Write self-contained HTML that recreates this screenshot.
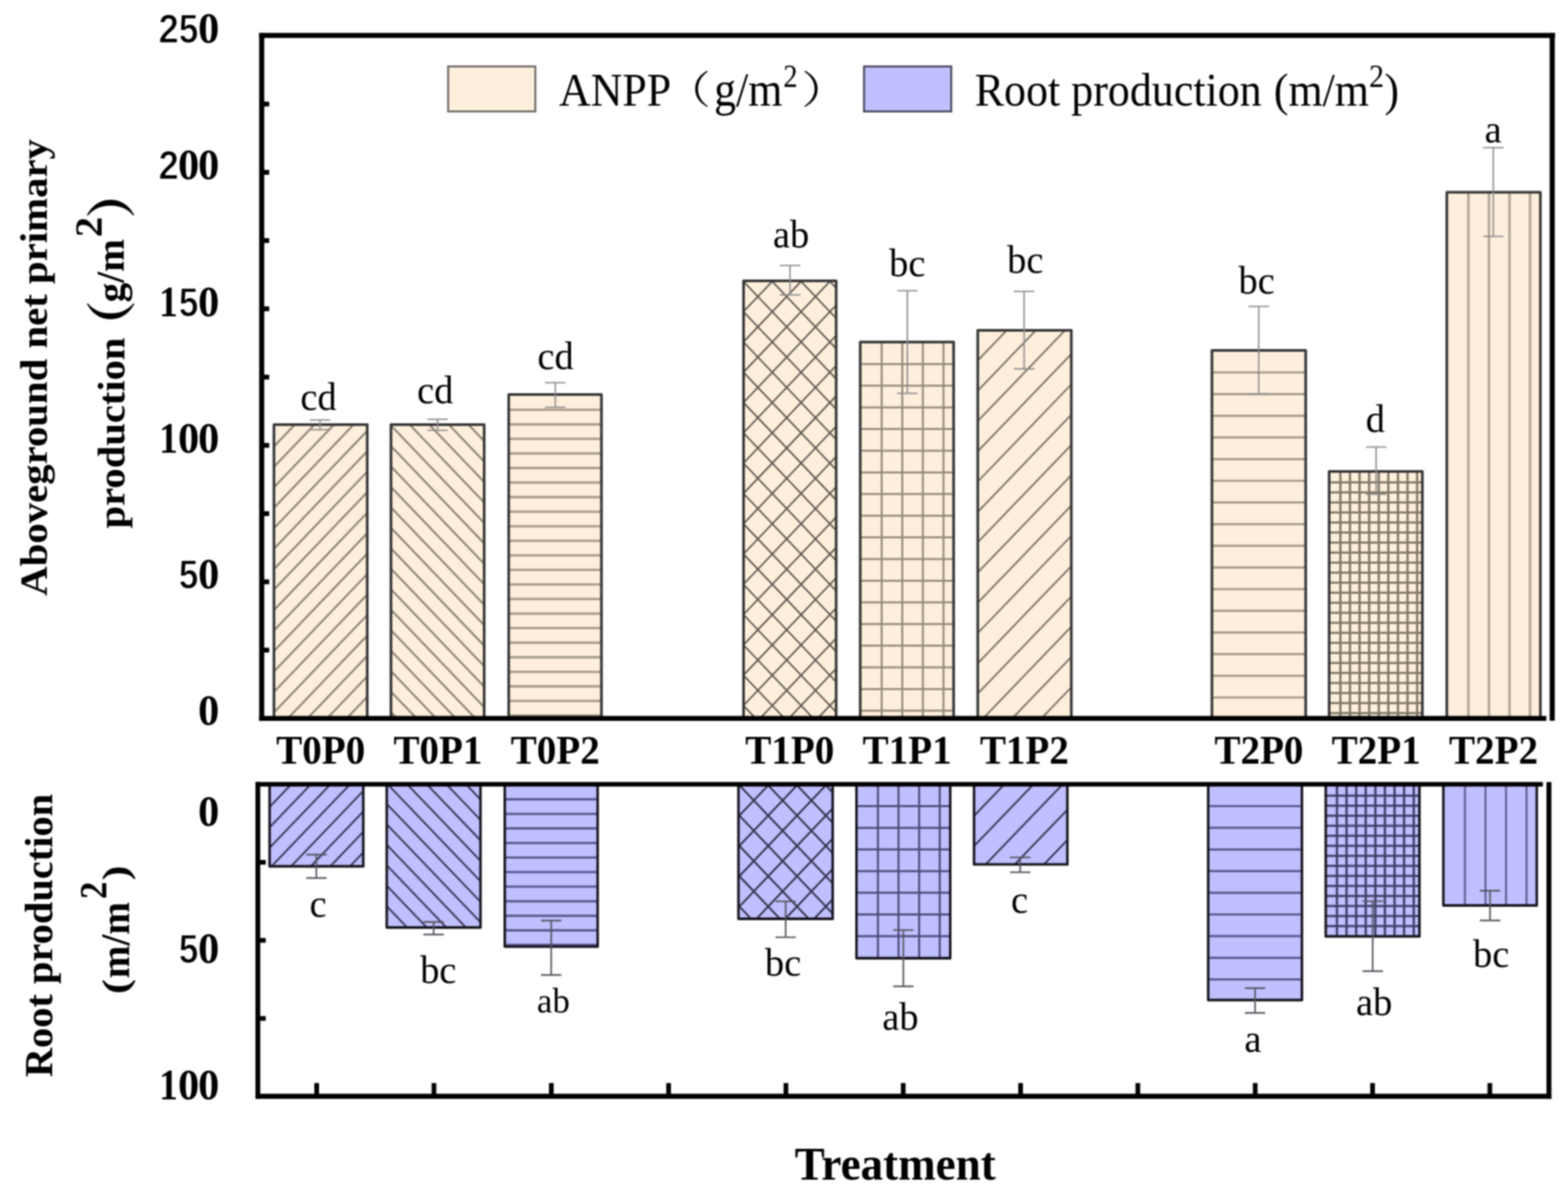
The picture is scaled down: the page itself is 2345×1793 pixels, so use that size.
<!DOCTYPE html>
<html lang="en"><head><meta charset="utf-8"><title>ANPP and root production by treatment</title>
<style>html,body{margin:0;padding:0;background:#fff}body{width:2345px;height:1793px;overflow:hidden}svg{display:block;filter:blur(1.0px)}text{font-family:'Liberation Serif', 'Noto Serif CJK SC', serif;fill:#000}</style>
</head><body>
<svg width="2345" height="1793" viewBox="0 0 2345 1793" role="img" aria-label="Bar chart of aboveground net primary production and root production by treatment">
<rect width="2345" height="1793" fill="#fff"/>
<g id="upper-bars">
<clipPath id="cu0"><rect x="409.7" y="635.0" width="139.5" height="439.0"/></clipPath>
<rect x="409.7" y="635.0" width="139.5" height="439.0" fill="#FEEFDC"/>
<g clip-path="url(#cu0)" stroke="#8e867a" stroke-width="3.0" fill="none"><line x1="409.7" y1="637.0" x2="549.2" y2="491.3"/><line x1="409.7" y1="667.6" x2="549.2" y2="521.9"/><line x1="409.7" y1="698.2" x2="549.2" y2="552.5"/><line x1="409.7" y1="728.8" x2="549.2" y2="583.1"/><line x1="409.7" y1="759.4" x2="549.2" y2="613.7"/><line x1="409.7" y1="790.0" x2="549.2" y2="644.3"/><line x1="409.7" y1="820.6" x2="549.2" y2="674.9"/><line x1="409.7" y1="851.2" x2="549.2" y2="705.5"/><line x1="409.7" y1="881.8" x2="549.2" y2="736.1"/><line x1="409.7" y1="912.4" x2="549.2" y2="766.7"/><line x1="409.7" y1="943.0" x2="549.2" y2="797.3"/><line x1="409.7" y1="973.6" x2="549.2" y2="827.9"/><line x1="409.7" y1="1004.2" x2="549.2" y2="858.5"/><line x1="409.7" y1="1034.8" x2="549.2" y2="889.1"/><line x1="409.7" y1="1065.4" x2="549.2" y2="919.7"/><line x1="409.7" y1="1096.0" x2="549.2" y2="950.3"/><line x1="409.7" y1="1126.6" x2="549.2" y2="980.9"/><line x1="409.7" y1="1157.2" x2="549.2" y2="1011.5"/><line x1="409.7" y1="1187.8" x2="549.2" y2="1042.1"/><line x1="409.7" y1="1218.4" x2="549.2" y2="1072.7"/></g>
<rect x="409.7" y="635.0" width="139.5" height="439.0" fill="none" stroke="#363636" stroke-width="4.0" stroke-linejoin="round"/>
<clipPath id="cu1"><rect x="584.7" y="635.0" width="139.4" height="439.0"/></clipPath>
<rect x="584.7" y="635.0" width="139.4" height="439.0" fill="#FEEFDC"/>
<g clip-path="url(#cu1)" stroke="#8e867a" stroke-width="3.0" fill="none"><line x1="584.7" y1="514.0" x2="724.1" y2="659.6"/><line x1="584.7" y1="544.6" x2="724.1" y2="690.2"/><line x1="584.7" y1="575.2" x2="724.1" y2="720.8"/><line x1="584.7" y1="605.8" x2="724.1" y2="751.4"/><line x1="584.7" y1="636.4" x2="724.1" y2="782.0"/><line x1="584.7" y1="667.0" x2="724.1" y2="812.6"/><line x1="584.7" y1="697.6" x2="724.1" y2="843.2"/><line x1="584.7" y1="728.2" x2="724.1" y2="873.8"/><line x1="584.7" y1="758.8" x2="724.1" y2="904.4"/><line x1="584.7" y1="789.4" x2="724.1" y2="935.0"/><line x1="584.7" y1="820.0" x2="724.1" y2="965.6"/><line x1="584.7" y1="850.6" x2="724.1" y2="996.2"/><line x1="584.7" y1="881.2" x2="724.1" y2="1026.8"/><line x1="584.7" y1="911.8" x2="724.1" y2="1057.4"/><line x1="584.7" y1="942.4" x2="724.1" y2="1088.0"/><line x1="584.7" y1="973.0" x2="724.1" y2="1118.6"/><line x1="584.7" y1="1003.6" x2="724.1" y2="1149.2"/><line x1="584.7" y1="1034.2" x2="724.1" y2="1179.8"/><line x1="584.7" y1="1064.8" x2="724.1" y2="1210.4"/></g>
<rect x="584.7" y="635.0" width="139.4" height="439.0" fill="none" stroke="#363636" stroke-width="4.0" stroke-linejoin="round"/>
<clipPath id="cu2"><rect x="760.8" y="590.0" width="138.7" height="484.0"/></clipPath>
<rect x="760.8" y="590.0" width="138.7" height="484.0" fill="#FEEFDC"/>
<g clip-path="url(#cu2)" stroke="#a69c8c" stroke-width="3.6" fill="none"><line x1="760.8" y1="612.8" x2="899.5" y2="612.8"/><line x1="760.8" y1="634.6" x2="899.5" y2="634.6"/><line x1="760.8" y1="656.3" x2="899.5" y2="656.3"/><line x1="760.8" y1="678.1" x2="899.5" y2="678.1"/><line x1="760.8" y1="699.9" x2="899.5" y2="699.9"/><line x1="760.8" y1="721.6" x2="899.5" y2="721.6"/><line x1="760.8" y1="743.4" x2="899.5" y2="743.4"/><line x1="760.8" y1="765.2" x2="899.5" y2="765.2"/><line x1="760.8" y1="787.0" x2="899.5" y2="787.0"/><line x1="760.8" y1="808.7" x2="899.5" y2="808.7"/><line x1="760.8" y1="830.5" x2="899.5" y2="830.5"/><line x1="760.8" y1="852.3" x2="899.5" y2="852.3"/><line x1="760.8" y1="874.0" x2="899.5" y2="874.0"/><line x1="760.8" y1="895.8" x2="899.5" y2="895.8"/><line x1="760.8" y1="917.6" x2="899.5" y2="917.6"/><line x1="760.8" y1="939.3" x2="899.5" y2="939.3"/><line x1="760.8" y1="961.1" x2="899.5" y2="961.1"/><line x1="760.8" y1="982.9" x2="899.5" y2="982.9"/><line x1="760.8" y1="1004.7" x2="899.5" y2="1004.7"/><line x1="760.8" y1="1026.4" x2="899.5" y2="1026.4"/><line x1="760.8" y1="1048.2" x2="899.5" y2="1048.2"/><line x1="760.8" y1="1070.0" x2="899.5" y2="1070.0"/></g>
<rect x="760.8" y="590.0" width="138.7" height="484.0" fill="none" stroke="#363636" stroke-width="4.0" stroke-linejoin="round"/>
<clipPath id="cu3"><rect x="1112.0" y="420.0" width="138.5" height="654.0"/></clipPath>
<rect x="1112.0" y="420.0" width="138.5" height="654.0" fill="#FEEFDC"/>
<g clip-path="url(#cu3)" stroke="#5e5850" stroke-width="2.4" fill="none"><line x1="1112.0" y1="420.7" x2="1250.5" y2="275.1"/><line x1="1112.0" y1="466.0" x2="1250.5" y2="320.4"/><line x1="1112.0" y1="511.3" x2="1250.5" y2="365.7"/><line x1="1112.0" y1="556.6" x2="1250.5" y2="411.0"/><line x1="1112.0" y1="601.9" x2="1250.5" y2="456.3"/><line x1="1112.0" y1="647.2" x2="1250.5" y2="501.6"/><line x1="1112.0" y1="692.5" x2="1250.5" y2="546.9"/><line x1="1112.0" y1="737.8" x2="1250.5" y2="592.2"/><line x1="1112.0" y1="783.1" x2="1250.5" y2="637.5"/><line x1="1112.0" y1="828.4" x2="1250.5" y2="682.8"/><line x1="1112.0" y1="873.7" x2="1250.5" y2="728.1"/><line x1="1112.0" y1="919.0" x2="1250.5" y2="773.4"/><line x1="1112.0" y1="964.3" x2="1250.5" y2="818.7"/><line x1="1112.0" y1="1009.6" x2="1250.5" y2="864.0"/><line x1="1112.0" y1="1054.9" x2="1250.5" y2="909.3"/><line x1="1112.0" y1="1100.2" x2="1250.5" y2="954.6"/><line x1="1112.0" y1="1145.5" x2="1250.5" y2="999.9"/><line x1="1112.0" y1="1190.8" x2="1250.5" y2="1045.2"/><line x1="1112.0" y1="285.1" x2="1250.5" y2="430.7"/><line x1="1112.0" y1="330.4" x2="1250.5" y2="476.0"/><line x1="1112.0" y1="375.7" x2="1250.5" y2="521.3"/><line x1="1112.0" y1="421.0" x2="1250.5" y2="566.6"/><line x1="1112.0" y1="466.3" x2="1250.5" y2="611.9"/><line x1="1112.0" y1="511.6" x2="1250.5" y2="657.2"/><line x1="1112.0" y1="556.9" x2="1250.5" y2="702.5"/><line x1="1112.0" y1="602.2" x2="1250.5" y2="747.8"/><line x1="1112.0" y1="647.5" x2="1250.5" y2="793.1"/><line x1="1112.0" y1="692.8" x2="1250.5" y2="838.4"/><line x1="1112.0" y1="738.1" x2="1250.5" y2="883.7"/><line x1="1112.0" y1="783.4" x2="1250.5" y2="929.0"/><line x1="1112.0" y1="828.7" x2="1250.5" y2="974.3"/><line x1="1112.0" y1="874.0" x2="1250.5" y2="1019.6"/><line x1="1112.0" y1="919.3" x2="1250.5" y2="1064.9"/><line x1="1112.0" y1="964.6" x2="1250.5" y2="1110.2"/><line x1="1112.0" y1="1009.9" x2="1250.5" y2="1155.5"/><line x1="1112.0" y1="1055.2" x2="1250.5" y2="1200.8"/></g>
<rect x="1112.0" y="420.0" width="138.5" height="654.0" fill="none" stroke="#363636" stroke-width="4.0" stroke-linejoin="round"/>
<clipPath id="cu4"><rect x="1286.5" y="511.4" width="139.7" height="562.6"/></clipPath>
<rect x="1286.5" y="511.4" width="139.7" height="562.6" fill="#FEEFDC"/>
<g clip-path="url(#cu4)" stroke="#948c7e" stroke-width="3.0" fill="none"><line x1="1286.5" y1="544.4" x2="1426.2" y2="544.4"/><line x1="1286.5" y1="576.8" x2="1426.2" y2="576.8"/><line x1="1286.5" y1="609.2" x2="1426.2" y2="609.2"/><line x1="1286.5" y1="641.6" x2="1426.2" y2="641.6"/><line x1="1286.5" y1="674.0" x2="1426.2" y2="674.0"/><line x1="1286.5" y1="706.4" x2="1426.2" y2="706.4"/><line x1="1286.5" y1="738.8" x2="1426.2" y2="738.8"/><line x1="1286.5" y1="771.2" x2="1426.2" y2="771.2"/><line x1="1286.5" y1="803.6" x2="1426.2" y2="803.6"/><line x1="1286.5" y1="836.0" x2="1426.2" y2="836.0"/><line x1="1286.5" y1="868.4" x2="1426.2" y2="868.4"/><line x1="1286.5" y1="900.8" x2="1426.2" y2="900.8"/><line x1="1286.5" y1="933.2" x2="1426.2" y2="933.2"/><line x1="1286.5" y1="965.6" x2="1426.2" y2="965.6"/><line x1="1286.5" y1="998.0" x2="1426.2" y2="998.0"/><line x1="1286.5" y1="1030.4" x2="1426.2" y2="1030.4"/><line x1="1286.5" y1="1062.8" x2="1426.2" y2="1062.8"/><line x1="1318.6" y1="511.4" x2="1318.6" y2="1074.0"/><line x1="1349.4" y1="511.4" x2="1349.4" y2="1074.0"/><line x1="1380.2" y1="511.4" x2="1380.2" y2="1074.0"/><line x1="1411.0" y1="511.4" x2="1411.0" y2="1074.0"/></g>
<rect x="1286.5" y="511.4" width="139.7" height="562.6" fill="none" stroke="#363636" stroke-width="4.0" stroke-linejoin="round"/>
<clipPath id="cu5"><rect x="1462.3" y="494.0" width="139.9" height="580.0"/></clipPath>
<rect x="1462.3" y="494.0" width="139.9" height="580.0" fill="#FEEFDC"/>
<g clip-path="url(#cu5)" stroke="#7a7268" stroke-width="2.6" fill="none"><line x1="1462.3" y1="539.0" x2="1602.2" y2="393.6"/><line x1="1462.3" y1="584.3" x2="1602.2" y2="438.9"/><line x1="1462.3" y1="629.6" x2="1602.2" y2="484.2"/><line x1="1462.3" y1="674.9" x2="1602.2" y2="529.5"/><line x1="1462.3" y1="720.2" x2="1602.2" y2="574.8"/><line x1="1462.3" y1="765.5" x2="1602.2" y2="620.1"/><line x1="1462.3" y1="810.8" x2="1602.2" y2="665.4"/><line x1="1462.3" y1="856.1" x2="1602.2" y2="710.7"/><line x1="1462.3" y1="901.4" x2="1602.2" y2="756.0"/><line x1="1462.3" y1="946.7" x2="1602.2" y2="801.3"/><line x1="1462.3" y1="992.0" x2="1602.2" y2="846.6"/><line x1="1462.3" y1="1037.3" x2="1602.2" y2="891.9"/><line x1="1462.3" y1="1082.6" x2="1602.2" y2="937.2"/><line x1="1462.3" y1="1127.9" x2="1602.2" y2="982.5"/><line x1="1462.3" y1="1173.2" x2="1602.2" y2="1027.8"/><line x1="1462.3" y1="1218.5" x2="1602.2" y2="1073.1"/></g>
<rect x="1462.3" y="494.0" width="139.9" height="580.0" fill="none" stroke="#363636" stroke-width="4.0" stroke-linejoin="round"/>
<clipPath id="cu6"><rect x="1812.5" y="524.0" width="140.2" height="550.0"/></clipPath>
<rect x="1812.5" y="524.0" width="140.2" height="550.0" fill="#FEEFDC"/>
<g clip-path="url(#cu6)" stroke="#a0978a" stroke-width="3.2" fill="none"><line x1="1812.5" y1="557.0" x2="1952.7" y2="557.0"/><line x1="1812.5" y1="589.4" x2="1952.7" y2="589.4"/><line x1="1812.5" y1="621.8" x2="1952.7" y2="621.8"/><line x1="1812.5" y1="654.2" x2="1952.7" y2="654.2"/><line x1="1812.5" y1="686.6" x2="1952.7" y2="686.6"/><line x1="1812.5" y1="719.0" x2="1952.7" y2="719.0"/><line x1="1812.5" y1="751.4" x2="1952.7" y2="751.4"/><line x1="1812.5" y1="783.8" x2="1952.7" y2="783.8"/><line x1="1812.5" y1="816.2" x2="1952.7" y2="816.2"/><line x1="1812.5" y1="848.6" x2="1952.7" y2="848.6"/><line x1="1812.5" y1="881.0" x2="1952.7" y2="881.0"/><line x1="1812.5" y1="913.4" x2="1952.7" y2="913.4"/><line x1="1812.5" y1="945.8" x2="1952.7" y2="945.8"/><line x1="1812.5" y1="978.2" x2="1952.7" y2="978.2"/><line x1="1812.5" y1="1010.6" x2="1952.7" y2="1010.6"/><line x1="1812.5" y1="1043.0" x2="1952.7" y2="1043.0"/></g>
<rect x="1812.5" y="524.0" width="140.2" height="550.0" fill="none" stroke="#363636" stroke-width="4.0" stroke-linejoin="round"/>
<clipPath id="cu7"><rect x="1987.8" y="705.0" width="139.4" height="369.0"/></clipPath>
<rect x="1987.8" y="705.0" width="139.4" height="369.0" fill="#FEEFDC"/>
<g clip-path="url(#cu7)" stroke="#807868" stroke-width="3.4" fill="none"><line x1="1987.8" y1="721.4" x2="2127.2" y2="721.4"/><line x1="1987.8" y1="736.4" x2="2127.2" y2="736.4"/><line x1="1987.8" y1="751.4" x2="2127.2" y2="751.4"/><line x1="1987.8" y1="766.4" x2="2127.2" y2="766.4"/><line x1="1987.8" y1="781.4" x2="2127.2" y2="781.4"/><line x1="1987.8" y1="796.4" x2="2127.2" y2="796.4"/><line x1="1987.8" y1="811.4" x2="2127.2" y2="811.4"/><line x1="1987.8" y1="826.4" x2="2127.2" y2="826.4"/><line x1="1987.8" y1="841.4" x2="2127.2" y2="841.4"/><line x1="1987.8" y1="856.4" x2="2127.2" y2="856.4"/><line x1="1987.8" y1="871.4" x2="2127.2" y2="871.4"/><line x1="1987.8" y1="886.4" x2="2127.2" y2="886.4"/><line x1="1987.8" y1="901.4" x2="2127.2" y2="901.4"/><line x1="1987.8" y1="916.4" x2="2127.2" y2="916.4"/><line x1="1987.8" y1="931.4" x2="2127.2" y2="931.4"/><line x1="1987.8" y1="946.4" x2="2127.2" y2="946.4"/><line x1="1987.8" y1="961.4" x2="2127.2" y2="961.4"/><line x1="1987.8" y1="976.4" x2="2127.2" y2="976.4"/><line x1="1987.8" y1="991.4" x2="2127.2" y2="991.4"/><line x1="1987.8" y1="1006.4" x2="2127.2" y2="1006.4"/><line x1="1987.8" y1="1021.4" x2="2127.2" y2="1021.4"/><line x1="1987.8" y1="1036.4" x2="2127.2" y2="1036.4"/><line x1="1987.8" y1="1051.4" x2="2127.2" y2="1051.4"/><line x1="1987.8" y1="1066.4" x2="2127.2" y2="1066.4"/><line x1="2004.6" y1="705.0" x2="2004.6" y2="1074.0"/><line x1="2018.9" y1="705.0" x2="2018.9" y2="1074.0"/><line x1="2033.3" y1="705.0" x2="2033.3" y2="1074.0"/><line x1="2047.6" y1="705.0" x2="2047.6" y2="1074.0"/><line x1="2062.0" y1="705.0" x2="2062.0" y2="1074.0"/><line x1="2076.3" y1="705.0" x2="2076.3" y2="1074.0"/><line x1="2090.7" y1="705.0" x2="2090.7" y2="1074.0"/><line x1="2105.0" y1="705.0" x2="2105.0" y2="1074.0"/><line x1="2119.4" y1="705.0" x2="2119.4" y2="1074.0"/></g>
<rect x="1987.8" y="705.0" width="139.4" height="369.0" fill="none" stroke="#363636" stroke-width="4.0" stroke-linejoin="round"/>
<clipPath id="cu8"><rect x="2163.8" y="287.6" width="139.9" height="786.4"/></clipPath>
<rect x="2163.8" y="287.6" width="139.9" height="786.4" fill="#FEEFDC"/>
<g clip-path="url(#cu8)" stroke="#b0a797" stroke-width="3.8" fill="none"><line x1="2196.1" y1="287.6" x2="2196.1" y2="1074.0"/><line x1="2226.8" y1="287.6" x2="2226.8" y2="1074.0"/><line x1="2257.5" y1="287.6" x2="2257.5" y2="1074.0"/><line x1="2288.2" y1="287.6" x2="2288.2" y2="1074.0"/></g>
<rect x="2163.8" y="287.6" width="139.9" height="786.4" fill="none" stroke="#363636" stroke-width="4.0" stroke-linejoin="round"/>
</g>
<g id="lower-bars">
<clipPath id="cl0"><rect x="403.2" y="1172.5" width="140.1" height="123.0"/></clipPath>
<rect x="403.2" y="1172.5" width="140.1" height="123.0" fill="#C0BFFF"/>
<g clip-path="url(#cl0)" stroke="#3c3c5c" stroke-width="2.8" fill="none"><line x1="403.2" y1="1176.1" x2="543.3" y2="1029.8"/><line x1="403.2" y1="1206.7" x2="543.3" y2="1060.4"/><line x1="403.2" y1="1237.3" x2="543.3" y2="1091.0"/><line x1="403.2" y1="1267.9" x2="543.3" y2="1121.6"/><line x1="403.2" y1="1298.5" x2="543.3" y2="1152.2"/><line x1="403.2" y1="1329.1" x2="543.3" y2="1182.8"/><line x1="403.2" y1="1359.7" x2="543.3" y2="1213.4"/><line x1="403.2" y1="1390.3" x2="543.3" y2="1244.0"/><line x1="403.2" y1="1420.9" x2="543.3" y2="1274.6"/></g>
<rect x="403.2" y="1172.5" width="140.1" height="123.0" fill="none" stroke="#16161f" stroke-width="3.8" stroke-linejoin="round"/>
<clipPath id="cl1"><rect x="578.4" y="1172.5" width="140.2" height="214.5"/></clipPath>
<rect x="578.4" y="1172.5" width="140.2" height="214.5" fill="#C0BFFF"/>
<g clip-path="url(#cl1)" stroke="#3c3c5c" stroke-width="2.8" fill="none"><line x1="578.4" y1="1049.1" x2="718.6" y2="1195.5"/><line x1="578.4" y1="1079.7" x2="718.6" y2="1226.1"/><line x1="578.4" y1="1110.3" x2="718.6" y2="1256.7"/><line x1="578.4" y1="1140.9" x2="718.6" y2="1287.3"/><line x1="578.4" y1="1171.5" x2="718.6" y2="1317.9"/><line x1="578.4" y1="1202.1" x2="718.6" y2="1348.5"/><line x1="578.4" y1="1232.7" x2="718.6" y2="1379.1"/><line x1="578.4" y1="1263.3" x2="718.6" y2="1409.7"/><line x1="578.4" y1="1293.9" x2="718.6" y2="1440.3"/><line x1="578.4" y1="1324.5" x2="718.6" y2="1470.9"/><line x1="578.4" y1="1355.1" x2="718.6" y2="1501.5"/><line x1="578.4" y1="1385.7" x2="718.6" y2="1532.1"/></g>
<rect x="578.4" y="1172.5" width="140.2" height="214.5" fill="none" stroke="#16161f" stroke-width="3.8" stroke-linejoin="round"/>
<clipPath id="cl2"><rect x="754.9" y="1172.5" width="138.9" height="243.1"/></clipPath>
<rect x="754.9" y="1172.5" width="138.9" height="243.1" fill="#C0BFFF"/>
<g clip-path="url(#cl2)" stroke="#56568a" stroke-width="3.4" fill="none"><line x1="754.9" y1="1195.3" x2="893.8" y2="1195.3"/><line x1="754.9" y1="1217.1" x2="893.8" y2="1217.1"/><line x1="754.9" y1="1238.8" x2="893.8" y2="1238.8"/><line x1="754.9" y1="1260.6" x2="893.8" y2="1260.6"/><line x1="754.9" y1="1282.4" x2="893.8" y2="1282.4"/><line x1="754.9" y1="1304.1" x2="893.8" y2="1304.1"/><line x1="754.9" y1="1325.9" x2="893.8" y2="1325.9"/><line x1="754.9" y1="1347.7" x2="893.8" y2="1347.7"/><line x1="754.9" y1="1369.5" x2="893.8" y2="1369.5"/><line x1="754.9" y1="1391.2" x2="893.8" y2="1391.2"/><line x1="754.9" y1="1413.0" x2="893.8" y2="1413.0"/></g>
<rect x="754.9" y="1172.5" width="138.9" height="243.1" fill="none" stroke="#16161f" stroke-width="3.8" stroke-linejoin="round"/>
<clipPath id="cl3"><rect x="1104.4" y="1172.5" width="140.9" height="201.5"/></clipPath>
<rect x="1104.4" y="1172.5" width="140.9" height="201.5" fill="#C0BFFF"/>
<g clip-path="url(#cl3)" stroke="#34344e" stroke-width="2.8" fill="none"><line x1="1104.4" y1="1175.8" x2="1245.3" y2="1027.7"/><line x1="1104.4" y1="1221.1" x2="1245.3" y2="1073.0"/><line x1="1104.4" y1="1266.4" x2="1245.3" y2="1118.3"/><line x1="1104.4" y1="1311.7" x2="1245.3" y2="1163.6"/><line x1="1104.4" y1="1357.0" x2="1245.3" y2="1208.9"/><line x1="1104.4" y1="1402.3" x2="1245.3" y2="1254.2"/><line x1="1104.4" y1="1447.6" x2="1245.3" y2="1299.5"/><line x1="1104.4" y1="1492.9" x2="1245.3" y2="1344.8"/><line x1="1104.4" y1="1037.0" x2="1245.3" y2="1185.1"/><line x1="1104.4" y1="1082.3" x2="1245.3" y2="1230.4"/><line x1="1104.4" y1="1127.6" x2="1245.3" y2="1275.7"/><line x1="1104.4" y1="1172.9" x2="1245.3" y2="1321.0"/><line x1="1104.4" y1="1218.2" x2="1245.3" y2="1366.3"/><line x1="1104.4" y1="1263.5" x2="1245.3" y2="1411.6"/><line x1="1104.4" y1="1308.8" x2="1245.3" y2="1456.9"/><line x1="1104.4" y1="1354.1" x2="1245.3" y2="1502.2"/></g>
<rect x="1104.4" y="1172.5" width="140.9" height="201.5" fill="none" stroke="#16161f" stroke-width="3.8" stroke-linejoin="round"/>
<clipPath id="cl4"><rect x="1280.9" y="1172.5" width="140.2" height="260.5"/></clipPath>
<rect x="1280.9" y="1172.5" width="140.2" height="260.5" fill="#C0BFFF"/>
<g clip-path="url(#cl4)" stroke="#4a4a78" stroke-width="3.0" fill="none"><line x1="1280.9" y1="1205.5" x2="1421.1" y2="1205.5"/><line x1="1280.9" y1="1237.9" x2="1421.1" y2="1237.9"/><line x1="1280.9" y1="1270.3" x2="1421.1" y2="1270.3"/><line x1="1280.9" y1="1302.7" x2="1421.1" y2="1302.7"/><line x1="1280.9" y1="1335.1" x2="1421.1" y2="1335.1"/><line x1="1280.9" y1="1367.5" x2="1421.1" y2="1367.5"/><line x1="1280.9" y1="1399.9" x2="1421.1" y2="1399.9"/><line x1="1280.9" y1="1432.3" x2="1421.1" y2="1432.3"/><line x1="1313.0" y1="1172.5" x2="1313.0" y2="1433.0"/><line x1="1343.8" y1="1172.5" x2="1343.8" y2="1433.0"/><line x1="1374.6" y1="1172.5" x2="1374.6" y2="1433.0"/><line x1="1405.4" y1="1172.5" x2="1405.4" y2="1433.0"/></g>
<rect x="1280.9" y="1172.5" width="140.2" height="260.5" fill="none" stroke="#16161f" stroke-width="3.8" stroke-linejoin="round"/>
<clipPath id="cl5"><rect x="1456.7" y="1172.5" width="139.6" height="120.2"/></clipPath>
<rect x="1456.7" y="1172.5" width="139.6" height="120.2" fill="#C0BFFF"/>
<g clip-path="url(#cl5)" stroke="#3c3c5c" stroke-width="2.8" fill="none"><line x1="1456.7" y1="1174.7" x2="1596.3" y2="1029.7"/><line x1="1456.7" y1="1220.0" x2="1596.3" y2="1075.0"/><line x1="1456.7" y1="1265.3" x2="1596.3" y2="1120.3"/><line x1="1456.7" y1="1310.6" x2="1596.3" y2="1165.6"/><line x1="1456.7" y1="1355.9" x2="1596.3" y2="1210.9"/><line x1="1456.7" y1="1401.2" x2="1596.3" y2="1256.2"/></g>
<rect x="1456.7" y="1172.5" width="139.6" height="120.2" fill="none" stroke="#16161f" stroke-width="3.8" stroke-linejoin="round"/>
<clipPath id="cl6"><rect x="1806.9" y="1172.5" width="140.2" height="323.0"/></clipPath>
<rect x="1806.9" y="1172.5" width="140.2" height="323.0" fill="#C0BFFF"/>
<g clip-path="url(#cl6)" stroke="#56568a" stroke-width="3.2" fill="none"><line x1="1806.9" y1="1205.5" x2="1947.1" y2="1205.5"/><line x1="1806.9" y1="1237.9" x2="1947.1" y2="1237.9"/><line x1="1806.9" y1="1270.3" x2="1947.1" y2="1270.3"/><line x1="1806.9" y1="1302.7" x2="1947.1" y2="1302.7"/><line x1="1806.9" y1="1335.1" x2="1947.1" y2="1335.1"/><line x1="1806.9" y1="1367.5" x2="1947.1" y2="1367.5"/><line x1="1806.9" y1="1399.9" x2="1947.1" y2="1399.9"/><line x1="1806.9" y1="1432.3" x2="1947.1" y2="1432.3"/><line x1="1806.9" y1="1464.7" x2="1947.1" y2="1464.7"/></g>
<rect x="1806.9" y="1172.5" width="140.2" height="323.0" fill="none" stroke="#16161f" stroke-width="3.8" stroke-linejoin="round"/>
<clipPath id="cl7"><rect x="1982.7" y="1172.5" width="140.1" height="227.9"/></clipPath>
<rect x="1982.7" y="1172.5" width="140.1" height="227.9" fill="#C0BFFF"/>
<g clip-path="url(#cl7)" stroke="#3e3e66" stroke-width="3.4" fill="none"><line x1="1982.7" y1="1189.9" x2="2122.8" y2="1189.9"/><line x1="1982.7" y1="1204.9" x2="2122.8" y2="1204.9"/><line x1="1982.7" y1="1219.9" x2="2122.8" y2="1219.9"/><line x1="1982.7" y1="1234.9" x2="2122.8" y2="1234.9"/><line x1="1982.7" y1="1249.9" x2="2122.8" y2="1249.9"/><line x1="1982.7" y1="1264.9" x2="2122.8" y2="1264.9"/><line x1="1982.7" y1="1279.9" x2="2122.8" y2="1279.9"/><line x1="1982.7" y1="1294.9" x2="2122.8" y2="1294.9"/><line x1="1982.7" y1="1309.9" x2="2122.8" y2="1309.9"/><line x1="1982.7" y1="1324.9" x2="2122.8" y2="1324.9"/><line x1="1982.7" y1="1339.9" x2="2122.8" y2="1339.9"/><line x1="1982.7" y1="1354.9" x2="2122.8" y2="1354.9"/><line x1="1982.7" y1="1369.9" x2="2122.8" y2="1369.9"/><line x1="1982.7" y1="1384.9" x2="2122.8" y2="1384.9"/><line x1="1982.7" y1="1399.9" x2="2122.8" y2="1399.9"/><line x1="1999.5" y1="1172.5" x2="1999.5" y2="1400.4"/><line x1="2013.8" y1="1172.5" x2="2013.8" y2="1400.4"/><line x1="2028.2" y1="1172.5" x2="2028.2" y2="1400.4"/><line x1="2042.5" y1="1172.5" x2="2042.5" y2="1400.4"/><line x1="2056.9" y1="1172.5" x2="2056.9" y2="1400.4"/><line x1="2071.2" y1="1172.5" x2="2071.2" y2="1400.4"/><line x1="2085.6" y1="1172.5" x2="2085.6" y2="1400.4"/><line x1="2099.9" y1="1172.5" x2="2099.9" y2="1400.4"/><line x1="2114.3" y1="1172.5" x2="2114.3" y2="1400.4"/></g>
<rect x="1982.7" y="1172.5" width="140.1" height="227.9" fill="none" stroke="#16161f" stroke-width="3.8" stroke-linejoin="round"/>
<clipPath id="cl8"><rect x="2158.6" y="1172.5" width="139.7" height="181.5"/></clipPath>
<rect x="2158.6" y="1172.5" width="139.7" height="181.5" fill="#C0BFFF"/>
<g clip-path="url(#cl8)" stroke="#5e5e92" stroke-width="3.0" fill="none"><line x1="2190.9" y1="1172.5" x2="2190.9" y2="1354.0"/><line x1="2221.6" y1="1172.5" x2="2221.6" y2="1354.0"/><line x1="2252.3" y1="1172.5" x2="2252.3" y2="1354.0"/><line x1="2283.0" y1="1172.5" x2="2283.0" y2="1354.0"/></g>
<rect x="2158.6" y="1172.5" width="139.7" height="181.5" fill="none" stroke="#16161f" stroke-width="3.8" stroke-linejoin="round"/>
</g>
<g id="upper-axes" fill="#000">
<rect x="387.6" y="49.2" width="7.6" height="1028.8"/>
<rect x="387.6" y="49.2" width="1938" height="7.6"/>
<rect x="2317.6" y="49.2" width="7.6" height="1028.6"/>
<rect x="387.6" y="1070.6" width="1925" height="7.4"/>
<rect x="394" y="152.0" width="8.6" height="7.2"/>
<rect x="394" y="254.1" width="8.6" height="7.2"/>
<rect x="394" y="356.1" width="8.6" height="7.2"/>
<rect x="394" y="458.2" width="8.6" height="7.2"/>
<rect x="394" y="560.3" width="8.6" height="7.2"/>
<rect x="394" y="662.4" width="8.6" height="7.2"/>
<rect x="394" y="764.5" width="8.6" height="7.2"/>
<rect x="394" y="866.5" width="8.6" height="7.2"/>
<rect x="394" y="968.6" width="8.6" height="7.2"/>
</g>
<g id="lower-axes" fill="#000">
<rect x="382.0" y="1169.4" width="7.2" height="473.8"/>
<rect x="382.0" y="1169.4" width="1925.4" height="6.8"/>
<rect x="2312.8" y="1169.5" width="7.4" height="473.7"/>
<rect x="382.4" y="1635.6" width="1937.8" height="7.6"/>
<rect x="388" y="1286.0" width="9.4" height="7.0"/>
<rect x="388" y="1402.7" width="9.4" height="7.0"/>
<rect x="388" y="1519.5" width="9.4" height="7.0"/>
<rect x="470.1" y="1619.6" width="7" height="17"/>
<rect x="645.5" y="1619.6" width="7" height="17"/>
<rect x="821.0" y="1619.6" width="7" height="17"/>
<rect x="996.4" y="1619.6" width="7" height="17"/>
<rect x="1171.9" y="1619.6" width="7" height="17"/>
<rect x="1347.3" y="1619.6" width="7" height="17"/>
<rect x="1522.8" y="1619.6" width="7" height="17"/>
<rect x="1698.2" y="1619.6" width="7" height="17"/>
<rect x="1873.7" y="1619.6" width="7" height="17"/>
<rect x="2049.2" y="1619.6" width="7" height="17"/>
<rect x="2224.6" y="1619.6" width="7" height="17"/>
</g>
<g id="errors">
<path d="M463.4 628.0H493.9M463.4 642.5H493.9M478.6 628.0V642.5" stroke="#8a8a8a" stroke-width="2.1" fill="none"/>
<path d="M639.1 627.0H669.6M639.1 643.5H669.6M654.4 627.0V643.5" stroke="#8a8a8a" stroke-width="2.1" fill="none"/>
<path d="M815.2 572.3H845.8M815.2 609.0H845.8M830.5 572.3V609.0" stroke="#8a8a8a" stroke-width="2.1" fill="none"/>
<path d="M1166.2 397.0H1196.8M1166.2 441.0H1196.8M1181.5 397.0V441.0" stroke="#8a8a8a" stroke-width="2.1" fill="none"/>
<path d="M1341.8 434.7H1372.2M1341.8 588.3H1372.2M1357.0 434.7V588.3" stroke="#8a8a8a" stroke-width="2.1" fill="none"/>
<path d="M1516.3 435.8H1546.8M1516.3 551.6H1546.8M1531.6 435.8V551.6" stroke="#8a8a8a" stroke-width="2.1" fill="none"/>
<path d="M1867.2 458.2H1897.8M1867.2 589.5H1897.8M1882.5 458.2V589.5" stroke="#8a8a8a" stroke-width="2.1" fill="none"/>
<path d="M2042.8 668.5H2073.2M2042.8 739.0H2073.2M2058.0 668.5V739.0" stroke="#8a8a8a" stroke-width="2.1" fill="none"/>
<path d="M2218.1 220.8H2248.6M2218.1 353.5H2248.6M2233.3 220.8V353.5" stroke="#8a8a8a" stroke-width="2.1" fill="none"/>
<path d="M457.9 1278.0H488.4M457.9 1313.0H488.4M473.1 1278.0V1313.0" stroke="#55555f" stroke-width="2.4" fill="none"/>
<path d="M633.2 1378.8H663.8M633.2 1397.5H663.8M648.5 1378.8V1397.5" stroke="#55555f" stroke-width="2.4" fill="none"/>
<path d="M809.0 1376.8H839.5M809.0 1458.0H839.5M824.3 1376.8V1458.0" stroke="#55555f" stroke-width="2.4" fill="none"/>
<path d="M1159.8 1347.9H1190.2M1159.8 1401.6H1190.2M1175.0 1347.9V1401.6" stroke="#55555f" stroke-width="2.4" fill="none"/>
<path d="M1335.8 1390.9H1366.2M1335.8 1475.0H1366.2M1351.0 1390.9V1475.0" stroke="#55555f" stroke-width="2.4" fill="none"/>
<path d="M1510.5 1282.1H1541.0M1510.5 1304.4H1541.0M1525.7 1282.1V1304.4" stroke="#55555f" stroke-width="2.4" fill="none"/>
<path d="M1861.8 1477.8H1892.2M1861.8 1514.7H1892.2M1877.0 1477.8V1514.7" stroke="#55555f" stroke-width="2.4" fill="none"/>
<path d="M2037.7 1347.6H2068.2M2037.7 1452.2H2068.2M2052.9 1347.6V1452.2" stroke="#55555f" stroke-width="2.4" fill="none"/>
<path d="M2213.2 1332.0H2243.7M2213.2 1376.5H2243.7M2228.4 1332.0V1376.5" stroke="#55555f" stroke-width="2.4" fill="none"/>
</g>
<g id="bar-letters">
<text transform="translate(449.2 612.9)" font-weight="normal" xml:space="preserve"><tspan x="0.0" y="0.0" font-size="59.5" textLength="54.2" lengthAdjust="spacingAndGlyphs">cd</tspan></text>
<text transform="translate(623.7 602.9)" font-weight="normal" xml:space="preserve"><tspan x="0.0" y="0.0" font-size="59.5" textLength="54.2" lengthAdjust="spacingAndGlyphs">cd</tspan></text>
<text transform="translate(803.8 552.1)" font-weight="normal" xml:space="preserve"><tspan x="0.0" y="0.0" font-size="59.5" textLength="54.2" lengthAdjust="spacingAndGlyphs">cd</tspan></text>
<text transform="translate(1156.0 370.4)" font-weight="normal" xml:space="preserve"><tspan x="0.0" y="0.0" font-size="59.5" textLength="54.2" lengthAdjust="spacingAndGlyphs">ab</tspan></text>
<text transform="translate(1329.7 413.4)" font-weight="normal" xml:space="preserve"><tspan x="0.0" y="0.0" font-size="59.5" textLength="54.2" lengthAdjust="spacingAndGlyphs">bc</tspan></text>
<text transform="translate(1506.2 408.4)" font-weight="normal" xml:space="preserve"><tspan x="0.0" y="0.0" font-size="59.5" textLength="54.2" lengthAdjust="spacingAndGlyphs">bc</tspan></text>
<text transform="translate(1852.2 439.2)" font-weight="normal" xml:space="preserve"><tspan x="0.0" y="0.0" font-size="59.5" textLength="54.2" lengthAdjust="spacingAndGlyphs">bc</tspan></text>
<text transform="translate(2042.5 646.4)" font-weight="normal" xml:space="preserve"><tspan x="0.0" y="0.0" font-size="59.5" textLength="28.7" lengthAdjust="spacingAndGlyphs">d</tspan></text>
<text transform="translate(2220.2 212.6)" font-weight="normal" xml:space="preserve"><tspan x="0.0" y="0.0" font-size="59.5" textLength="25.5" lengthAdjust="spacingAndGlyphs">a</tspan></text>
<text transform="translate(462.9 1370.9)" font-weight="normal" xml:space="preserve"><tspan x="0.0" y="0.0" font-size="59.5" textLength="25.5" lengthAdjust="spacingAndGlyphs">c</tspan></text>
<text transform="translate(628.4 1470.4)" font-weight="normal" xml:space="preserve"><tspan x="0.0" y="0.0" font-size="59.5" textLength="54.2" lengthAdjust="spacingAndGlyphs">bc</tspan></text>
<text transform="translate(803.1 1514.4)" font-weight="normal" xml:space="preserve"><tspan x="0.0" y="0.0" font-size="53.8" textLength="49.0" lengthAdjust="spacingAndGlyphs">ab</tspan></text>
<text transform="translate(1144.0 1459.4)" font-weight="normal" xml:space="preserve"><tspan x="0.0" y="0.0" font-size="59.5" textLength="54.2" lengthAdjust="spacingAndGlyphs">bc</tspan></text>
<text transform="translate(1319.5 1540.4)" font-weight="normal" xml:space="preserve"><tspan x="0.0" y="0.0" font-size="59.5" textLength="54.2" lengthAdjust="spacingAndGlyphs">ab</tspan></text>
<text transform="translate(1511.9 1364.8)" font-weight="normal" xml:space="preserve"><tspan x="0.0" y="0.0" font-size="59.5" textLength="25.5" lengthAdjust="spacingAndGlyphs">c</tspan></text>
<text transform="translate(1860.9 1573.4)" font-weight="normal" xml:space="preserve"><tspan x="0.0" y="0.0" font-size="59.5" textLength="25.5" lengthAdjust="spacingAndGlyphs">a</tspan></text>
<text transform="translate(2028.0 1518.4)" font-weight="normal" xml:space="preserve"><tspan x="0.0" y="0.0" font-size="59.5" textLength="54.2" lengthAdjust="spacingAndGlyphs">ab</tspan></text>
<text transform="translate(2203.0 1446.4)" font-weight="normal" xml:space="preserve"><tspan x="0.0" y="0.0" font-size="59.5" textLength="54.2" lengthAdjust="spacingAndGlyphs">bc</tspan></text>
</g>
<g id="categories">
<text transform="translate(413.0 1141.6)" font-weight="bold" xml:space="preserve"><tspan x="0.0" y="0.0" font-size="61.5" textLength="133.1" lengthAdjust="spacingAndGlyphs">T0P0</tspan></text>
<text transform="translate(588.4 1141.6)" font-weight="bold" xml:space="preserve"><tspan x="0.0" y="0.0" font-size="61.5" textLength="133.1" lengthAdjust="spacingAndGlyphs">T0P1</tspan></text>
<text transform="translate(763.8 1141.6)" font-weight="bold" xml:space="preserve"><tspan x="0.0" y="0.0" font-size="61.5" textLength="133.1" lengthAdjust="spacingAndGlyphs">T0P2</tspan></text>
<text transform="translate(1114.6 1141.6)" font-weight="bold" xml:space="preserve"><tspan x="0.0" y="0.0" font-size="61.5" textLength="133.1" lengthAdjust="spacingAndGlyphs">T1P0</tspan></text>
<text transform="translate(1290.0 1141.6)" font-weight="bold" xml:space="preserve"><tspan x="0.0" y="0.0" font-size="61.5" textLength="133.1" lengthAdjust="spacingAndGlyphs">T1P1</tspan></text>
<text transform="translate(1465.4 1141.6)" font-weight="bold" xml:space="preserve"><tspan x="0.0" y="0.0" font-size="61.5" textLength="133.1" lengthAdjust="spacingAndGlyphs">T1P2</tspan></text>
<text transform="translate(1816.2 1141.6)" font-weight="bold" xml:space="preserve"><tspan x="0.0" y="0.0" font-size="61.5" textLength="133.1" lengthAdjust="spacingAndGlyphs">T2P0</tspan></text>
<text transform="translate(1991.6 1141.6)" font-weight="bold" xml:space="preserve"><tspan x="0.0" y="0.0" font-size="61.5" textLength="133.1" lengthAdjust="spacingAndGlyphs">T2P1</tspan></text>
<text transform="translate(2167.0 1141.6)" font-weight="bold" xml:space="preserve"><tspan x="0.0" y="0.0" font-size="61.5" textLength="133.1" lengthAdjust="spacingAndGlyphs">T2P2</tspan></text>
</g>
<g id="tick-labels">
<text transform="translate(0.0 64.4)" font-weight="bold" xml:space="preserve"><tspan x="236.9" y="0.0" font-size="62.0" font-family="'Liberation Sans', sans-serif" stroke="#fff" stroke-width="1.6" textLength="30.5" lengthAdjust="spacingAndGlyphs">2</tspan><tspan x="267.2" y="0.0" font-size="62.0" font-family="'Liberation Sans', sans-serif" stroke="#fff" stroke-width="1.6" textLength="29.5" lengthAdjust="spacingAndGlyphs">5</tspan><tspan x="296.2" y="0.0" font-size="66.0" textLength="31.7" lengthAdjust="spacingAndGlyphs">0</tspan></text>
<text transform="translate(0.0 268.3)" font-weight="bold" xml:space="preserve"><tspan x="236.9" y="0.0" font-size="62.0" font-family="'Liberation Sans', sans-serif" stroke="#fff" stroke-width="1.6" textLength="30.5" lengthAdjust="spacingAndGlyphs">2</tspan><tspan x="266.2" y="0.0" font-size="66.0" textLength="31.7" lengthAdjust="spacingAndGlyphs">0</tspan><tspan x="296.2" y="0.0" font-size="66.0" textLength="31.7" lengthAdjust="spacingAndGlyphs">0</tspan></text>
<text transform="translate(0.0 472.8)" font-weight="bold" xml:space="preserve"><tspan x="238.0" y="0.0" font-size="66.0" textLength="27.9" lengthAdjust="spacingAndGlyphs">1</tspan><tspan x="267.2" y="0.0" font-size="62.0" font-family="'Liberation Sans', sans-serif" stroke="#fff" stroke-width="1.6" textLength="29.5" lengthAdjust="spacingAndGlyphs">5</tspan><tspan x="296.2" y="0.0" font-size="66.0" textLength="31.7" lengthAdjust="spacingAndGlyphs">0</tspan></text>
<text transform="translate(0.0 676.7)" font-weight="bold" xml:space="preserve"><tspan x="238.0" y="0.0" font-size="66.0" textLength="27.9" lengthAdjust="spacingAndGlyphs">1</tspan><tspan x="266.2" y="0.0" font-size="66.0" textLength="31.7" lengthAdjust="spacingAndGlyphs">0</tspan><tspan x="296.2" y="0.0" font-size="66.0" textLength="31.7" lengthAdjust="spacingAndGlyphs">0</tspan></text>
<text transform="translate(0.0 880.1)" font-weight="bold" xml:space="preserve"><tspan x="267.2" y="0.0" font-size="62.0" font-family="'Liberation Sans', sans-serif" stroke="#fff" stroke-width="1.6" textLength="29.5" lengthAdjust="spacingAndGlyphs">5</tspan><tspan x="296.2" y="0.0" font-size="66.0" textLength="31.7" lengthAdjust="spacingAndGlyphs">0</tspan></text>
<text transform="translate(0.0 1084.4)" font-weight="bold" xml:space="preserve"><tspan x="296.2" y="0.0" font-size="66.0" textLength="31.7" lengthAdjust="spacingAndGlyphs">0</tspan></text>
<text transform="translate(0.0 1235.0)" font-weight="bold" xml:space="preserve"><tspan x="296.2" y="0.0" font-size="66.0" textLength="31.7" lengthAdjust="spacingAndGlyphs">0</tspan></text>
<text transform="translate(0.0 1439.5)" font-weight="bold" xml:space="preserve"><tspan x="267.2" y="0.0" font-size="62.0" font-family="'Liberation Sans', sans-serif" stroke="#fff" stroke-width="1.6" textLength="29.5" lengthAdjust="spacingAndGlyphs">5</tspan><tspan x="296.2" y="0.0" font-size="66.0" textLength="31.7" lengthAdjust="spacingAndGlyphs">0</tspan></text>
<text transform="translate(0.0 1644.0)" font-weight="bold" xml:space="preserve"><tspan x="238.0" y="0.0" font-size="66.0" textLength="27.9" lengthAdjust="spacingAndGlyphs">1</tspan><tspan x="266.2" y="0.0" font-size="66.0" textLength="31.7" lengthAdjust="spacingAndGlyphs">0</tspan><tspan x="296.2" y="0.0" font-size="66.0" textLength="31.7" lengthAdjust="spacingAndGlyphs">0</tspan></text>
</g>
<g id="titles">
<text transform="translate(0.0 0.0)" font-weight="bold" xml:space="preserve"><tspan x="1188.5" y="1763.7" font-size="69.7" textLength="300.6" lengthAdjust="spacingAndGlyphs">Treatment</tspan></text>
<text transform="translate(0.0 0.0) rotate(-90)" font-weight="bold" xml:space="preserve"><tspan x="-891.0" y="69.5" font-size="56.4" textLength="683.0" lengthAdjust="spacingAndGlyphs">Aboveground net primary</tspan></text>
<text transform="translate(0.0 0.0) rotate(-90)" font-weight="bold" xml:space="preserve"><tspan x="-790.3" y="186.1" font-size="57.3" textLength="285.6" lengthAdjust="spacingAndGlyphs">production</tspan><tspan x="-526.9" y="194.4" font-size="74.6" font-weight="900" textLength="78.0" lengthAdjust="spacingAndGlyphs">（</tspan><tspan x="-452.3" y="185.0" font-size="59.1" textLength="94.7" lengthAdjust="spacingAndGlyphs">g/m</tspan><tspan x="-354.7" y="151.5" font-size="57.6" textLength="30.5" lengthAdjust="spacingAndGlyphs">2</tspan><tspan x="-327.0" y="194.4" font-size="74.6" font-weight="900" textLength="78.0" lengthAdjust="spacingAndGlyphs">）</tspan></text>
<text transform="translate(0.0 0.0) rotate(-90)" font-weight="bold" xml:space="preserve"><tspan x="-1610.8" y="78.4" font-size="58.4" textLength="423.6" lengthAdjust="spacingAndGlyphs">Root production</tspan></text>
<text transform="translate(0.0 0.0) rotate(-90)" font-weight="bold" xml:space="preserve"><tspan x="-1486.8" y="191.4" font-size="55.0" textLength="22.7" lengthAdjust="spacingAndGlyphs">(</tspan><tspan x="-1462.9" y="193.1" font-size="60.5" textLength="114.1" lengthAdjust="spacingAndGlyphs">m/m</tspan><tspan x="-1344.4" y="159.4" font-size="57.7" textLength="26.1" lengthAdjust="spacingAndGlyphs">2</tspan><tspan x="-1316.4" y="191.4" font-size="55.0" textLength="22.3" lengthAdjust="spacingAndGlyphs">)</tspan></text>
</g>
<g id="legend">
<rect x="670.2" y="99.4" width="130.4" height="67.2" fill="#FEEFDC" stroke="#6e6a66" stroke-width="3"/>
<rect x="1292.2" y="99.4" width="130.4" height="67.2" fill="#C0BFFF" stroke="#4a4a5e" stroke-width="3"/>
<text transform="translate(0.0 0.0)" font-weight="normal" xml:space="preserve"><tspan x="836.1" y="158.0" font-size="69.8" textLength="167.6" lengthAdjust="spacingAndGlyphs">ANPP</tspan><tspan x="996.4" y="154.8" font-size="58.0" textLength="66.3" lengthAdjust="spacingAndGlyphs">（</tspan><tspan x="1068.0" y="158.0" font-size="72.7" textLength="102.2" lengthAdjust="spacingAndGlyphs">g/m</tspan><tspan x="1171.4" y="130.1" font-size="48.9" textLength="21.3" lengthAdjust="spacingAndGlyphs">2</tspan><tspan x="1198.4" y="154.8" font-size="58.0" textLength="69.8" lengthAdjust="spacingAndGlyphs">）</tspan></text>
<text transform="translate(0.0 0.0)" font-weight="normal" xml:space="preserve"><tspan x="1457.7" y="158.0" font-size="68.8" textLength="445.7" lengthAdjust="spacingAndGlyphs">Root production </tspan><tspan x="1905.0" y="158.0" font-size="68.8" textLength="142.4" lengthAdjust="spacingAndGlyphs">(m/m</tspan><tspan x="2047.5" y="130.1" font-size="48.9" textLength="22.4" lengthAdjust="spacingAndGlyphs">2</tspan><tspan x="2070.4" y="158.0" font-size="68.8" textLength="21.8" lengthAdjust="spacingAndGlyphs">)</tspan></text>
</g>
</svg>
</body></html>
